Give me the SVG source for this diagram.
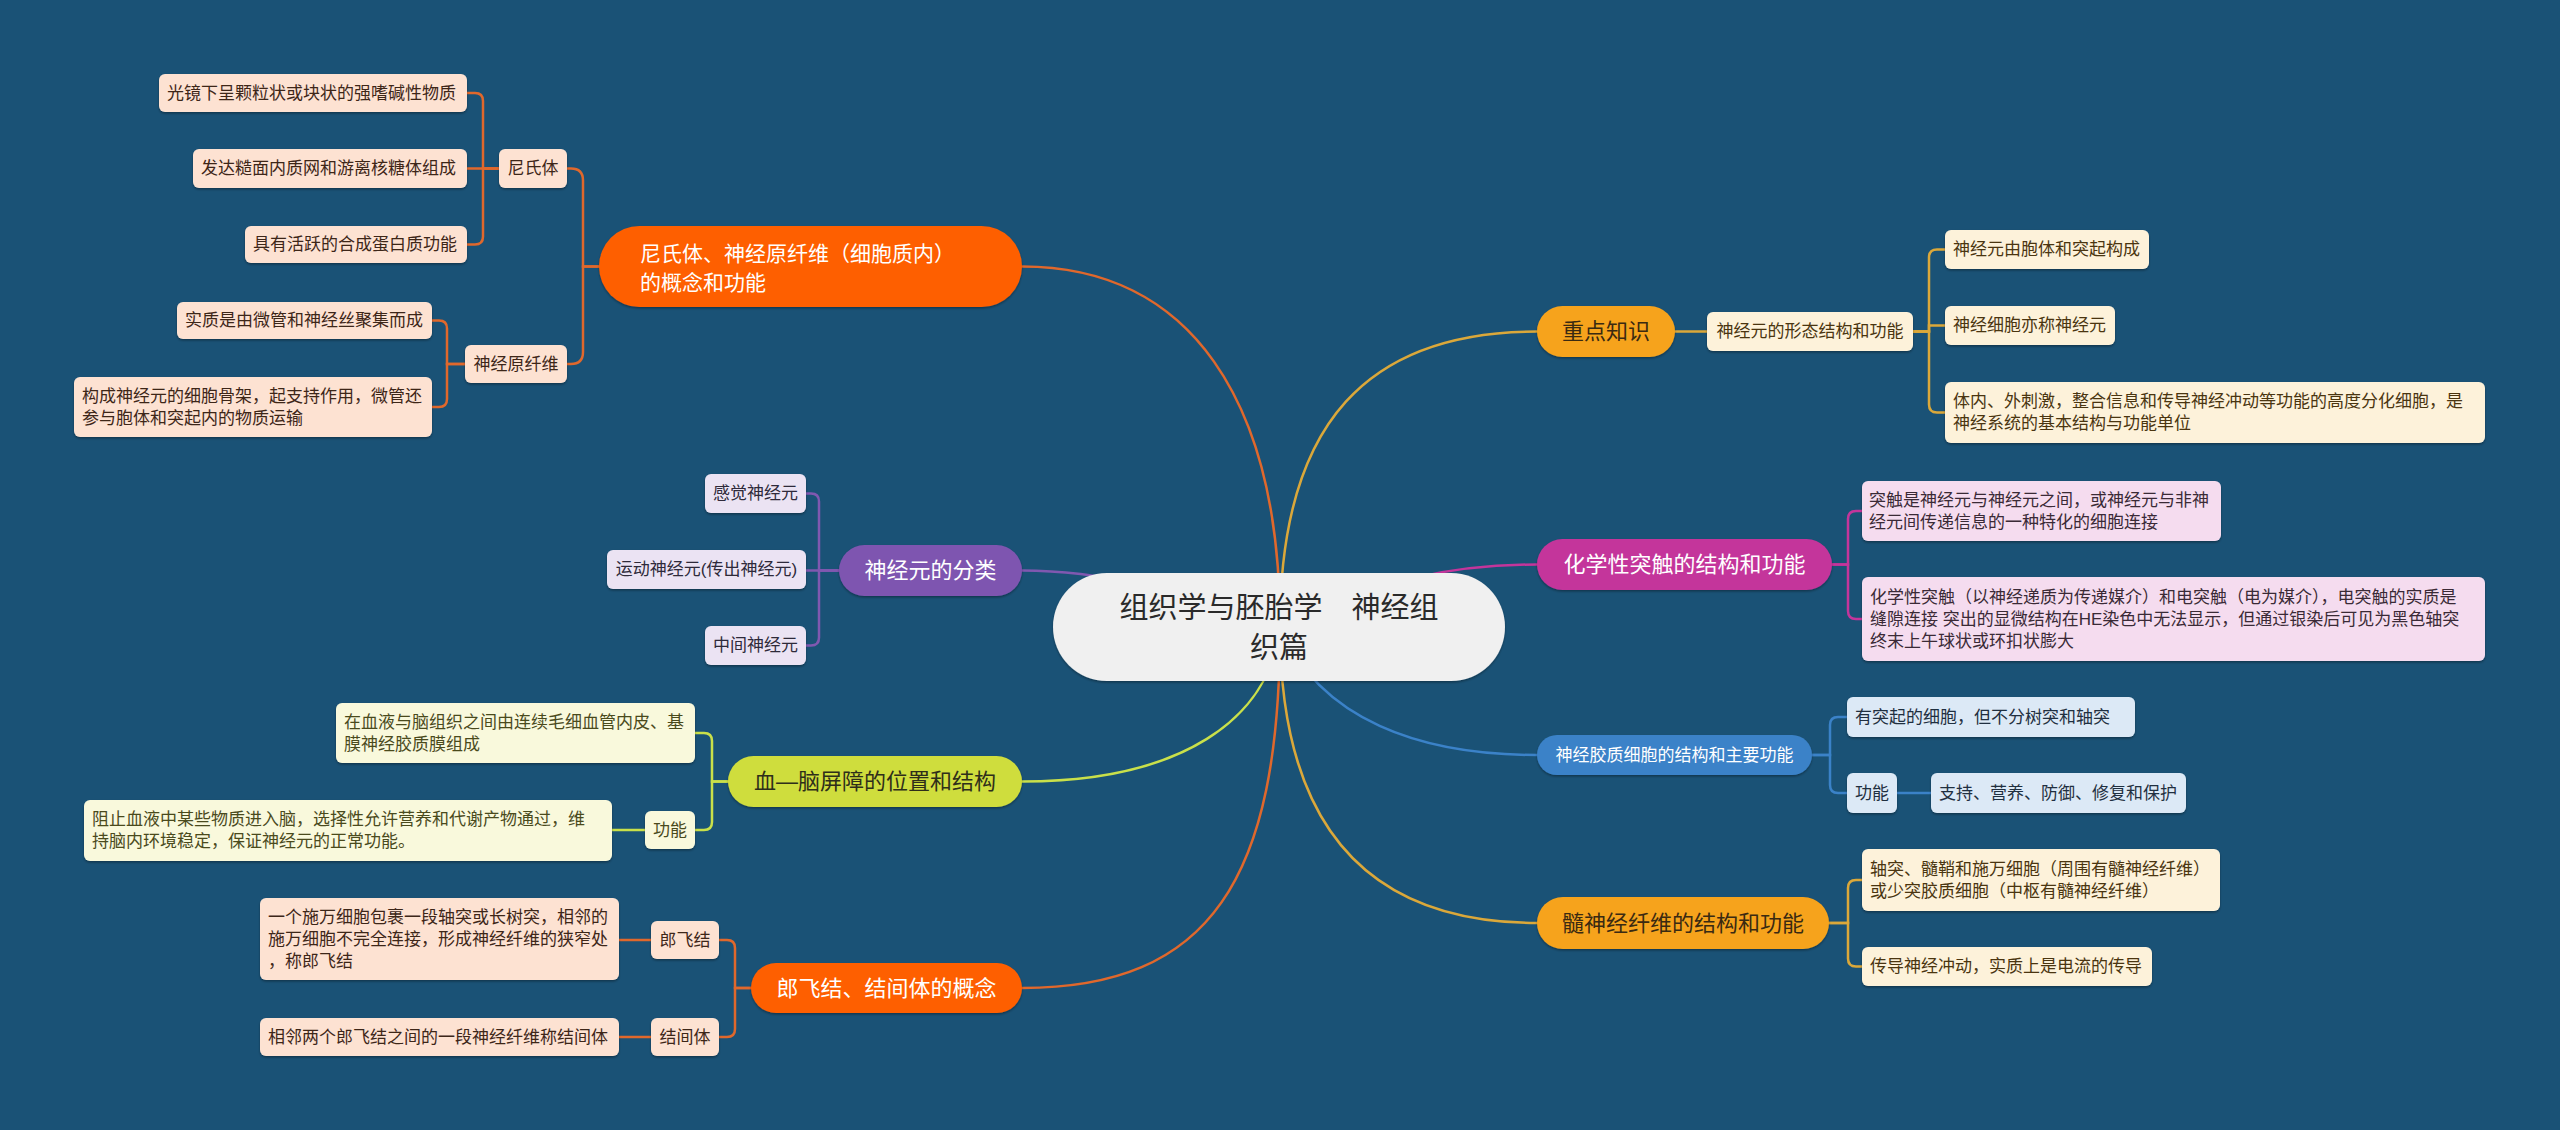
<svg xmlns="http://www.w3.org/2000/svg" width="2560" height="1130" viewBox="0 0 2560 1130">
<defs>
<filter id="sh" x="-10%" y="-20%" width="120%" height="150%">
<feDropShadow dx="0" dy="1.5" stdDeviation="1" flood-color="#000" flood-opacity="0.35"/>
</filter>
</defs>
<style>
text{font-family:"Liberation Sans","Noto Sans CJK SC",sans-serif;dominant-baseline:central}
.s{font-size:17px}
.m{font-size:22px}
.c{text-anchor:middle}
.box{filter:url(#sh)}
.con path{fill:none;stroke-width:2.5;stroke-linecap:round}
.lo{fill:#fde2d2}.to{fill:#3d2618}
.lp{fill:#ebe3f3}.tp{fill:#2e2a3a}
.ll{fill:#f9f9dc}.tl{fill:#4a4a1c}
.lg{fill:#fdf2da}.tg{fill:#4a3510}
.lm{fill:#f5dcef}.tm{fill:#3a2a36}
.lb{fill:#dce9f6}.tb{fill:#1f2f40}
.co{stroke:#e0682c}.cp{stroke:#8058b0}.cl{stroke:#c9e04a}.cg{stroke:#dba83a}.cm{stroke:#c4359b}.cb{stroke:#3b82c8}
</style>
<rect width="2560" height="1130" fill="#1a5276"/>

<g id="connectors" class="con">
<path class="co" d="M1280,627 C1280,400 1190,266.5 1022,266.5"/>
<path class="cp" d="M1280,627 C1180,590 1100,570.5 1022,570.5"/>
<path class="cl" d="M1280,627 C1270,720 1180,781.5 1022,781.5"/>
<path class="co" d="M1280,627 C1280,880 1210,988 1022,988"/>
<path class="cg" d="M1280,627 C1280,420 1370,331.5 1537,331.5"/>
<path class="cm" d="M1280,627 C1380,580 1450,564.5 1537,564.5"/>
<path class="cb" d="M1280,627 C1320,720 1420,755 1537,755"/>
<path class="cg" d="M1280,627 C1280,840 1380,923 1537,923"/>

<path class="co" d="M599,266.5 H583 V180.5 Q583,168.5 571,168.5 H567"/>
<path class="co" d="M599,266.5 H583 V352 Q583,364 571,364 H567"/>
<path class="co" d="M499,168.5 H483 V101 Q483,93 475,93 H467"/>
<path class="co" d="M499,168.5 H467"/>
<path class="co" d="M499,168.5 H483 V236.5 Q483,244.5 475,244.5 H467"/>
<path class="co" d="M465,364 H447 V328.5 Q447,320.5 439,320.5 H432"/>
<path class="co" d="M465,364 H447 V399 Q447,407 439,407 H432"/>

<path class="cp" d="M839,570.5 H819 V501.5 Q819,493.5 811,493.5 H806"/>
<path class="cp" d="M839,570.5 H806"/>
<path class="cp" d="M839,570.5 H819 V637.5 Q819,645.5 811,645.5 H806"/>

<path class="cl" d="M728,781.5 H712 V741 Q712,733 704,733 H695"/>
<path class="cl" d="M728,781.5 H712 V822 Q712,830 704,830 H695"/>
<path class="cl" d="M645,830 H612"/>

<path class="co" d="M751,988 H735 V948 Q735,940 727,940 H719"/>
<path class="co" d="M751,988 H735 V1029 Q735,1037 727,1037 H719"/>
<path class="co" d="M651,940 H619"/>
<path class="co" d="M651,1037 H619"/>

<path class="cg" d="M1675,331.5 H1707"/>
<path class="cg" d="M1913,331.5 H1929 V257.5 Q1929,249.5 1937,249.5 H1945"/>
<path class="cg" d="M1913,331.5 H1929 V325.5 H1945"/>
<path class="cg" d="M1913,331.5 H1929 V404.5 Q1929,412.5 1937,412.5 H1945"/>

<path class="cm" d="M1832,564.5 H1848 V519 Q1848,511 1856,511 H1862"/>
<path class="cm" d="M1832,564.5 H1848 V611 Q1848,619 1856,619 H1862"/>

<path class="cb" d="M1812,755 H1830 V725 Q1830,717 1838,717 H1847"/>
<path class="cb" d="M1812,755 H1830 V785 Q1830,793 1838,793 H1847"/>
<path class="cb" d="M1897,793 H1931"/>

<path class="cg" d="M1829,923 H1848 V888 Q1848,880 1856,880 H1862"/>
<path class="cg" d="M1829,923 H1848 V958.5 Q1848,966.5 1856,966.5 H1862"/>
</g>

<g id="center">
<rect class="box" x="1053" y="573" width="452" height="108" rx="54" fill="#f0f0f0"/>
<text x="1279" y="608" font-size="29" class="c" fill="#2a2a2a">组织学与胚胎学　神经组</text>
<text x="1279" y="648" font-size="29" class="c" fill="#2a2a2a">织篇</text>
</g>

<!-- Left: Nissl -->
<g id="n-nissl-main">
<rect class="box" x="599" y="226" width="423" height="81" rx="40.5" fill="#fe5f00"/>
<text x="640" y="253" font-size="21" fill="#fff">尼氏体、神经原纤维（细胞质内）</text>
<text x="640" y="282" font-size="21" fill="#fff">的概念和功能</text>
</g>
<g id="n-nissl">
<rect class="box lo" x="499" y="149" width="68" height="39" rx="6"/>
<text class="s to c" x="533" y="168.5">尼氏体</text>
</g>
<g id="n-nissl-1">
<rect class="box lo" x="159" y="74" width="308" height="38" rx="6"/>
<text class="s to" x="167" y="93">光镜下呈颗粒状或块状的强嗜碱性物质</text>
</g>
<g id="n-nissl-2">
<rect class="box lo" x="193" y="149" width="274" height="39" rx="6"/>
<text class="s to" x="201" y="168.5">发达糙面内质网和游离核糖体组成</text>
</g>
<g id="n-nissl-3">
<rect class="box lo" x="245" y="226" width="222" height="37" rx="6"/>
<text class="s to" x="253" y="244.5">具有活跃的合成蛋白质功能</text>
</g>
<g id="n-neurofibril">
<rect class="box lo" x="465" y="345" width="102" height="38" rx="6"/>
<text class="s to c" x="516" y="364">神经原纤维</text>
</g>
<g id="n-neurofibril-1">
<rect class="box lo" x="177" y="302" width="255" height="37" rx="6"/>
<text class="s to" x="185" y="320.5">实质是由微管和神经丝聚集而成</text>
</g>
<g id="n-neurofibril-2">
<rect class="box lo" x="74" y="377" width="358" height="60" rx="6"/>
<text class="s to" x="82" y="396">构成神经元的细胞骨架，起支持作用，微管还</text>
<text class="s to" x="82" y="418">参与胞体和突起内的物质运输</text>
</g>

<!-- Left: classification -->
<g id="n-class-main">
<rect class="box" x="839" y="545" width="183" height="51" rx="25.5" fill="#7e55b0"/>
<text class="m c" x="930.5" y="570.5" fill="#fff">神经元的分类</text>
</g>
<g id="n-class-1">
<rect class="box lp" x="705" y="474" width="101" height="39" rx="6"/>
<text class="s tp c" x="755.5" y="493.5">感觉神经元</text>
</g>
<g id="n-class-2">
<rect class="box lp" x="607" y="550" width="199" height="39" rx="6"/>
<text class="s tp c" x="706.5" y="569.5">运动神经元(传出神经元)</text>
</g>
<g id="n-class-3">
<rect class="box lp" x="705" y="626" width="101" height="39" rx="6"/>
<text class="s tp c" x="755.5" y="645.5">中间神经元</text>
</g>

<!-- Left: BBB -->
<g id="n-bbb-main">
<rect class="box" x="728" y="756" width="294" height="51" rx="25.5" fill="#cfdd3c"/>
<text class="m c" x="875" y="781.5" fill="#2e2e1a">血—脑屏障的位置和结构</text>
</g>
<g id="n-bbb-1">
<rect class="box ll" x="336" y="703" width="359" height="60" rx="6"/>
<text class="s tl" x="344" y="722">在血液与脑组织之间由连续毛细血管内皮、基</text>
<text class="s tl" x="344" y="744">膜神经胶质膜组成</text>
</g>
<g id="n-bbb-func">
<rect class="box ll" x="645" y="811" width="50" height="38" rx="6"/>
<text class="s tl c" x="670" y="830">功能</text>
</g>
<g id="n-bbb-func-1">
<rect class="box ll" x="84" y="800" width="528" height="61" rx="6"/>
<text class="s tl" x="92" y="819.5">阻止血液中某些物质进入脑，选择性允许营养和代谢产物通过，维</text>
<text class="s tl" x="92" y="841.5">持脑内环境稳定，保证神经元的正常功能。</text>
</g>

<!-- Left: Ranvier -->
<g id="n-ranvier-main">
<rect class="box" x="751" y="963" width="271" height="50" rx="25" fill="#fe5f00"/>
<text class="m c" x="886.5" y="988" fill="#fff">郎飞结、结间体的概念</text>
</g>
<g id="n-ranvier">
<rect class="box lo" x="651" y="921" width="68" height="38" rx="6"/>
<text class="s to c" x="685" y="940">郎飞结</text>
</g>
<g id="n-ranvier-1">
<rect class="box lo" x="260" y="898" width="359" height="82" rx="6"/>
<text class="s to" x="268" y="917">一个施万细胞包裹一段轴突或长树突，相邻的</text>
<text class="s to" x="268" y="939">施万细胞不完全连接，形成神经纤维的狭窄处</text>
<text class="s to" x="268" y="961">，称郎飞结</text>
</g>
<g id="n-internode">
<rect class="box lo" x="651" y="1018" width="68" height="38" rx="6"/>
<text class="s to c" x="685" y="1037">结间体</text>
</g>
<g id="n-internode-1">
<rect class="box lo" x="260" y="1018" width="359" height="38" rx="6"/>
<text class="s to" x="268" y="1037">相邻两个郎飞结之间的一段神经纤维称结间体</text>
</g>

<!-- Right: key knowledge -->
<g id="n-key-main">
<rect class="box" x="1537" y="306" width="138" height="51" rx="25.5" fill="#f6a31c"/>
<text class="m c" x="1606" y="331.5" fill="#3a2a12">重点知识</text>
</g>
<g id="n-key-1">
<rect class="box lg" x="1707" y="312" width="206" height="39" rx="6"/>
<text class="s tg c" x="1810" y="331.5">神经元的形态结构和功能</text>
</g>
<g id="n-key-1a">
<rect class="box lg" x="1945" y="230" width="204" height="39" rx="6"/>
<text class="s tg" x="1953" y="249.5">神经元由胞体和突起构成</text>
</g>
<g id="n-key-1b">
<rect class="box lg" x="1945" y="306" width="170" height="39" rx="6"/>
<text class="s tg" x="1953" y="325.5">神经细胞亦称神经元</text>
</g>
<g id="n-key-1c">
<rect class="box lg" x="1945" y="382" width="540" height="61" rx="6"/>
<text class="s tg" x="1953" y="401.5">体内、外刺激，整合信息和传导神经冲动等功能的高度分化细胞，是</text>
<text class="s tg" x="1953" y="423.5">神经系统的基本结构与功能单位</text>
</g>

<!-- Right: synapse -->
<g id="n-syn-main">
<rect class="box" x="1537" y="539" width="295" height="51" rx="25.5" fill="#c4359b"/>
<text class="m c" x="1684.5" y="564.5" fill="#fff">化学性突触的结构和功能</text>
</g>
<g id="n-syn-1">
<rect class="box lm" x="1862" y="481" width="359" height="60" rx="6"/>
<text class="s tm" x="1869" y="500">突触是神经元与神经元之间，或神经元与非神</text>
<text class="s tm" x="1869" y="522">经元间传递信息的一种特化的细胞连接</text>
</g>
<g id="n-syn-2">
<rect class="box lm" x="1862" y="577" width="623" height="84" rx="6"/>
<text class="s tm" x="1870" y="597">化学性突触（以神经递质为传递媒介）和电突触（电为媒介），电突触的实质是</text>
<text class="s tm" x="1870" y="619">缝隙连接 突出的显微结构在HE染色中无法显示，但通过银染后可见为黑色轴突</text>
<text class="s tm" x="1870" y="641">终末上午球状或环扣状膨大</text>
</g>

<!-- Right: glia -->
<g id="n-glia-main">
<rect class="box" x="1537" y="735" width="275" height="40" rx="20" fill="#3b82c8"/>
<text class="s c" x="1674.5" y="755" fill="#fff">神经胶质细胞的结构和主要功能</text>
</g>
<g id="n-glia-1">
<rect class="box lb" x="1847" y="697" width="288" height="40" rx="6"/>
<text class="s tb" x="1855" y="717">有突起的细胞，但不分树突和轴突</text>
</g>
<g id="n-glia-func">
<rect class="box lb" x="1847" y="773" width="50" height="40" rx="6"/>
<text class="s tb c" x="1872" y="793">功能</text>
</g>
<g id="n-glia-func-1">
<rect class="box lb" x="1931" y="773" width="255" height="40" rx="6"/>
<text class="s tb" x="1939" y="793">支持、营养、防御、修复和保护</text>
</g>

<!-- Right: myelinated fiber -->
<g id="n-fiber-main">
<rect class="box" x="1537" y="897" width="292" height="52" rx="26" fill="#f6a31c"/>
<text class="m c" x="1683" y="923" fill="#3a2a12">髓神经纤维的结构和功能</text>
</g>
<g id="n-fiber-1">
<rect class="box lg" x="1862" y="849" width="358" height="62" rx="6"/>
<text class="s tg" x="1870" y="869">轴突、髓鞘和施万细胞（周围有髓神经纤维）</text>
<text class="s tg" x="1870" y="891">或少突胶质细胞（中枢有髓神经纤维）</text>
</g>
<g id="n-fiber-2">
<rect class="box lg" x="1862" y="947" width="290" height="39" rx="6"/>
<text class="s tg" x="1870" y="966.5">传导神经冲动，实质上是电流的传导</text>
</g>
</svg>
